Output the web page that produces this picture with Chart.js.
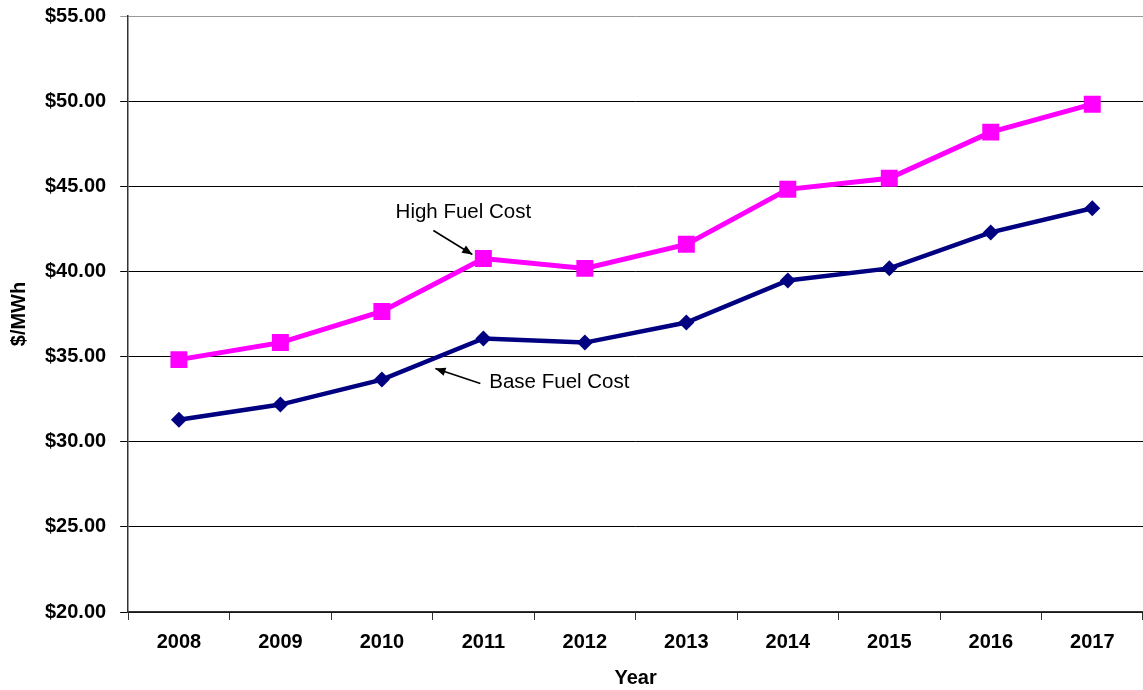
<!DOCTYPE html>
<html lang="en">
<head>
    <meta charset="UTF-8">
    <title>Fuel Cost</title>
    <script src="https://cdn.jsdelivr.net/npm/chart.js@4/dist/chart.umd.min.js"></script>
    <style>
        html, body {margin: 0; padding: 0; background: #fff; overflow: hidden;}
        #box {position: relative; width: 1143px; height: 690px;}
    </style>
</head>
<body>
<div id="box"><canvas id="chart"></canvas></div>
<script>
    const years = ['2008', '2009', '2010', '2011', '2012', '2013', '2014', '2015', '2016', '2017'];
    const highFuel = [34.82, 35.82, 37.65, 40.76, 40.18, 41.59, 44.82, 45.47, 48.18, 49.82];
    const baseFuel = [31.29, 32.18, 33.65, 36.06, 35.82, 37.00, 39.47, 40.18, 42.29, 43.71];
    const yMin = 20, yMax = 55, yStep = 5;

    const FONT = 'Arial, "Liberation Sans", sans-serif';

    // callout labels with arrows, anchored on the 2011 points
    const callouts = {
        id: 'callouts',
        afterDatasetsDraw(chart) {
            const ctx = chart.ctx;
            const x = chart.scales.x, y = chart.scales.y;
            const items = [
                {text: 'High Fuel Cost', px: x.getPixelForValue(3), py: y.getPixelForValue(highFuel[3]),
                    tx: -20, ty: -46, ax1: -50, ay1: -28, ax2: -11, ay2: -4},
                {text: 'Base Fuel Cost', px: x.getPixelForValue(3), py: y.getPixelForValue(baseFuel[3]),
                    tx: 76, ty: 44, ax1: -3, ay1: 45, ax2: -48, ay2: 30}
            ];
            ctx.save();
            ctx.font = '20.5px ' + FONT;
            ctx.fillStyle = '#000';
            ctx.textAlign = 'center';
            ctx.textBaseline = 'middle';
            items.forEach(it => {
                ctx.fillText(it.text, it.px + it.tx, it.py + it.ty);
                const x1 = it.px + it.ax1, y1 = it.py + it.ay1;
                const x2 = it.px + it.ax2, y2 = it.py + it.ay2;
                ctx.strokeStyle = '#000';
                ctx.lineWidth = 1.5;
                ctx.beginPath();
                ctx.moveTo(x1, y1);
                ctx.lineTo(x2, y2);
                ctx.stroke();
                const ang = Math.atan2(y2 - y1, x2 - x1);
                ctx.beginPath();
                ctx.moveTo(x2, y2);
                ctx.lineTo(x2 - 11 * Math.cos(ang - 0.4), y2 - 11 * Math.sin(ang - 0.4));
                ctx.lineTo(x2 - 11 * Math.cos(ang + 0.4), y2 - 11 * Math.sin(ang + 0.4));
                ctx.closePath();
                ctx.fill();
            });
            ctx.restore();
        }
    };

    new Chart(document.getElementById('chart'), {
        type: 'line',
        data: {
            labels: years,
            datasets: [{
                label: 'High Fuel Cost',
                data: highFuel,
                borderColor: '#FF00FF',
                backgroundColor: '#FF00FF',
                borderWidth: 5,
                pointStyle: 'rect',
                pointRadius: 12,
                pointBorderWidth: 0,
                tension: 0
            }, {
                label: 'Base Fuel Cost',
                data: baseFuel,
                borderColor: '#000080',
                backgroundColor: '#000080',
                borderWidth: 4.5,
                pointStyle: 'rectRot',
                pointRadius: 8,
                pointBorderWidth: 0,
                tension: 0
            }]
        },
        options: {
            responsive: true,
            maintainAspectRatio: false,
            animation: false,
            layout: {autoPadding: false, padding: {top: 0, right: 0, left: 7, bottom: 0}},
            plugins: {
                legend: {display: false},
                tooltip: {enabled: false}
            },
            scales: {
                x: {
                    offset: true,
                    grid: {
                        offset: true,
                        drawOnChartArea: false,
                        drawTicks: true,
                        tickLength: 8,
                        color: '#333'
                    },
                    border: {color: '#333', width: 1.5},
                    ticks: {
                        color: '#000',
                        padding: 10,
                        font: {family: FONT, size: 20, weight: 'bold'}
                    },
                    title: {
                        display: true,
                        text: 'Year',
                        color: '#000',
                        padding: {top: 2, bottom: 0},
                        font: {family: FONT, size: 20, weight: 'bold'}
                    }
                },
                y: {
                    min: yMin,
                    max: yMax,
                    afterFit: s => { s.paddingTop = 16; s.paddingBottom = 12; },
                    ticks: {
                        stepSize: yStep,
                        color: '#000',
                        padding: 14,
                        font: {family: FONT, size: 20, weight: 'bold'},
                        callback: v => '$' + v.toFixed(2)
                    },
                    grid: {
                        color: ctx => ctx.tick && ctx.tick.value === yMax ? '#999' : '#000',
                        lineWidth: 1,
                        tickLength: 8
                    },
                    border: {color: '#333', width: 1.5},
                    title: {
                        display: true,
                        text: '$/MWh',
                        color: '#000',
                        padding: {top: 0, bottom: 0},
                        font: {family: FONT, size: 20, weight: 'bold'}
                    }
                }
            }
        },
        plugins: [callouts]
    });
</script>
</body>
</html>
